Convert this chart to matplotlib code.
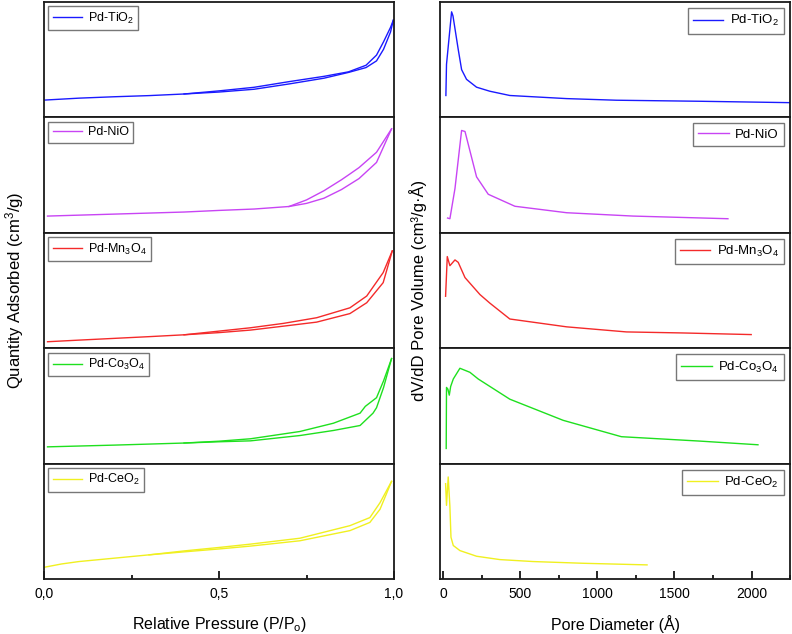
import matplotlib
matplotlib.use("Agg")
import matplotlib.pyplot as plt
from matplotlib.ticker import FixedLocator, MultipleLocator

plt.rcParams['font.family'] = ['Liberation Sans', 'DejaVu Sans']
plt.rcParams['mathtext.default'] = 'regular'

# ---------------- data (arbitrary units) ----------------
samples = ['Pd-TiO$_2$', 'Pd-NiO', 'Pd-Mn$_3$O$_4$', 'Pd-Co$_3$O$_4$', 'Pd-CeO$_2$']
colors = ['#1a1aff', '#c844f4', '#f42a2a', '#1ee01e', '#f0f020']

# Isotherms: adsorption and desorption branches
tio2_ads_p = [0.0, 0.1, 0.2, 0.3, 0.4, 0.5, 0.6, 0.7, 0.8, 0.87, 0.92, 0.95, 0.97, 0.99, 0.998]
tio2_ads_q = [15.0, 16.7, 17.9, 18.9, 20.3, 22.0, 24.4, 29.0, 34.0, 39.0, 43.2, 49.0, 59.0, 74.0, 84.3]
tio2_des_p = [0.998, 0.99, 0.97, 0.95, 0.92, 0.87, 0.8, 0.7, 0.6, 0.5, 0.4]
tio2_des_q = [84.3, 78.0, 65.5, 54.0, 45.2, 39.5, 35.6, 31.0, 26.1, 23.0, 20.3]

nio_ads_p = [0.01, 0.2, 0.4, 0.5, 0.6, 0.7, 0.75, 0.8, 0.85, 0.9, 0.95, 0.993]
nio_ads_q = [14.5, 16.2, 18.0, 19.4, 20.6, 22.8, 25.5, 30.0, 37.5, 47.0, 61.0, 90.1]
nio_des_p = [0.993, 0.95, 0.9, 0.874, 0.85, 0.8, 0.75, 0.7]
nio_des_q = [90.1, 69.8, 56.5, 51.0, 46.0, 36.5, 28.5, 22.8]

mn_ads_p = [0.01, 0.1, 0.2, 0.3, 0.4, 0.5, 0.59, 0.684, 0.779, 0.874, 0.922, 0.969, 0.995]
mn_ads_q = [5.6, 7.0, 8.5, 10.0, 11.6, 13.5, 15.7, 19.1, 22.6, 30.0, 39.4, 56.8, 84.3]
mn_des_p = [0.995, 0.969, 0.922, 0.874, 0.779, 0.684, 0.59, 0.5, 0.4]
mn_des_q = [84.3, 65.5, 45.2, 35.0, 26.4, 21.5, 17.7, 14.8, 11.6]

co_ads_p = [0.01, 0.2, 0.4, 0.5, 0.59, 0.731, 0.827, 0.903, 0.94, 0.95, 0.97, 0.993]
co_ads_q = [14.5, 16.0, 17.8, 18.9, 19.7, 24.3, 28.7, 33.0, 43.7, 48.4, 65.8, 91.0]
co_des_p = [0.993, 0.97, 0.95, 0.918, 0.903, 0.827, 0.731, 0.59, 0.5, 0.4]
co_des_q = [91.0, 71.6, 57.1, 49.6, 43.7, 35.0, 27.8, 21.5, 19.4, 17.8]

ce_ads_p = [0.0, 0.05, 0.1, 0.2, 0.3, 0.4, 0.5, 0.59, 0.731, 0.874, 0.931, 0.96, 0.993]
ce_ads_q = [10.1, 13.0, 15.1, 18.0, 20.9, 23.5, 26.0, 28.5, 33.1, 41.9, 49.0, 60.4, 84.6]
ce_des_p = [0.993, 0.96, 0.931, 0.874, 0.731, 0.59, 0.5, 0.4, 0.3]
ce_des_q = [84.6, 66.1, 53.2, 46.2, 35.3, 30.2, 27.3, 24.3, 20.9]

iso_ads_p = [tio2_ads_p, nio_ads_p, mn_ads_p, co_ads_p, ce_ads_p]
iso_ads_q = [tio2_ads_q, nio_ads_q, mn_ads_q, co_ads_q, ce_ads_q]
iso_des_p = [tio2_des_p, nio_des_p, mn_des_p, co_des_p, ce_des_p]
iso_des_q = [tio2_des_q, nio_des_q, mn_des_q, co_des_q, ce_des_q]

# Pore size distributions
tio2_d = [16, 20, 53, 62, 96, 118, 150, 215, 301, 431, 800, 1123, 1663, 2247]
tio2_v = [19.0, 46.0, 91.5, 88.0, 59.0, 41.4, 33.0, 26.2, 22.7, 19.0, 16.3, 14.9, 14.0, 12.8]

nio_d = [27, 42, 75, 118, 140, 215, 291, 464, 800, 1231, 1847]
nio_v = [12.8, 12.2, 38.4, 88.7, 87.8, 48.5, 33.4, 23.0, 17.4, 14.5, 12.2]

mn_d = [14, 25, 42, 75, 96, 140, 237, 301, 431, 800, 1188, 1555, 1998]
mn_v = [45.0, 79.4, 71.5, 76.5, 74.4, 61.2, 46.5, 39.1, 25.3, 18.5, 14.1, 13.2, 11.8]

co_d = [18, 20, 29, 38, 47, 64, 107, 172, 226, 431, 777, 1155, 1663, 2042]
co_v = [13.1, 66.0, 64.5, 59.3, 66.8, 73.3, 82.6, 79.1, 73.3, 55.8, 37.5, 23.3, 19.5, 16.3]

ce_d = [14, 20, 31, 42, 49, 64, 107, 215, 366, 582, 907, 1322]
ce_v = [82.6, 63.8, 88.4, 63.0, 36.2, 29.0, 24.6, 19.7, 16.8, 15.1, 13.6, 12.2]

psd_d = [tio2_d, nio_d, mn_d, co_d, ce_d]
psd_v = [tio2_v, nio_v, mn_v, co_v, ce_v]

left_ticks = [0.0, 0.5, 1.0]
left_ticklabels = ['0,0', '0,5', '1,0']
right_ticks = [0, 500, 1000, 1500, 2000]
right_ticklabels = ['0', '500', '1000', '1500', '2000']

# ---------------- figure ----------------
fig = plt.figure(figsize=(7.92, 6.34), dpi=100)
top, bottom = 0.9968, 0.0868
h = (top - bottom) / 5
lx0, lw = 0.0556, 0.4419
rx0, rw = 0.5556, 0.4419

for i in range(5):
    y0 = top - (i + 1) * h
    axl = fig.add_axes([lx0, y0, lw, h])
    axr = fig.add_axes([rx0, y0, rw, h])

    axl.plot(iso_ads_p[i], iso_ads_q[i], color=colors[i], lw=1.0, label=samples[i])
    axl.plot(iso_des_p[i], iso_des_q[i], color=colors[i], lw=1.0)
    axr.plot(psd_d[i], psd_v[i], color=colors[i], lw=1.0, label=samples[i])

    axl.set_xlim(0, 1.0)
    axl.set_ylim(0, 100)
    axr.set_xlim(-22, 2250)
    axr.set_ylim(0, 100)

    for ax in (axl, axr):
        ax.set_yticks([])
        for s in ax.spines.values():
            s.set_linewidth(1.3)
            s.set_color('#1a1a1a')
        ax.tick_params(axis='x', which='both', direction='in', top=False,
                       width=1.2, labelsize=10, pad=6)
        ax.tick_params(axis='x', which='major', length=6)
        ax.tick_params(axis='x', which='minor', length=3)

    lg = axl.legend(loc='upper left', fontsize=9, frameon=True, fancybox=False,
                    handlelength=2.3, borderpad=0.35, handletextpad=0.5,
                    borderaxespad=0.35)
    lg.get_frame().set_edgecolor('#555555')
    lg.get_frame().set_linewidth(1.0)
    lg = axr.legend(loc='upper right', fontsize=9.5, frameon=True, fancybox=False,
                    handlelength=2.3, borderpad=0.4, handletextpad=0.5,
                    borderaxespad=0.45)
    lg.get_frame().set_edgecolor('#555555')
    lg.get_frame().set_linewidth(1.0)

    if i < 4:
        axl.set_xticks([])
        axr.set_xticks([])
    else:
        axl.xaxis.set_major_locator(FixedLocator(left_ticks))
        axl.set_xticklabels(left_ticklabels)
        axl.xaxis.set_minor_locator(FixedLocator([0.25, 0.75]))
        axr.xaxis.set_major_locator(FixedLocator(right_ticks))
        axr.set_xticklabels(right_ticklabels)
        axr.xaxis.set_minor_locator(MultipleLocator(250))
        axl.set_xlabel('Relative Pressure (P/P$_o$)', fontsize=11.5, labelpad=10)
        axr.set_xlabel('Pore Diameter (Å)', fontsize=11.5, labelpad=10)

fig.text(0.019, (top + bottom) / 2, 'Quantity Adsorbed (cm$^3$/g)', rotation=90,
         ha='center', va='center', fontsize=12)
fig.text(0.528, (top + bottom) / 2, 'dV/dD Pore Volume (cm³/g·Å)', rotation=90,
         ha='center', va='center', fontsize=12)

fig.savefig('out.png', dpi=100)
